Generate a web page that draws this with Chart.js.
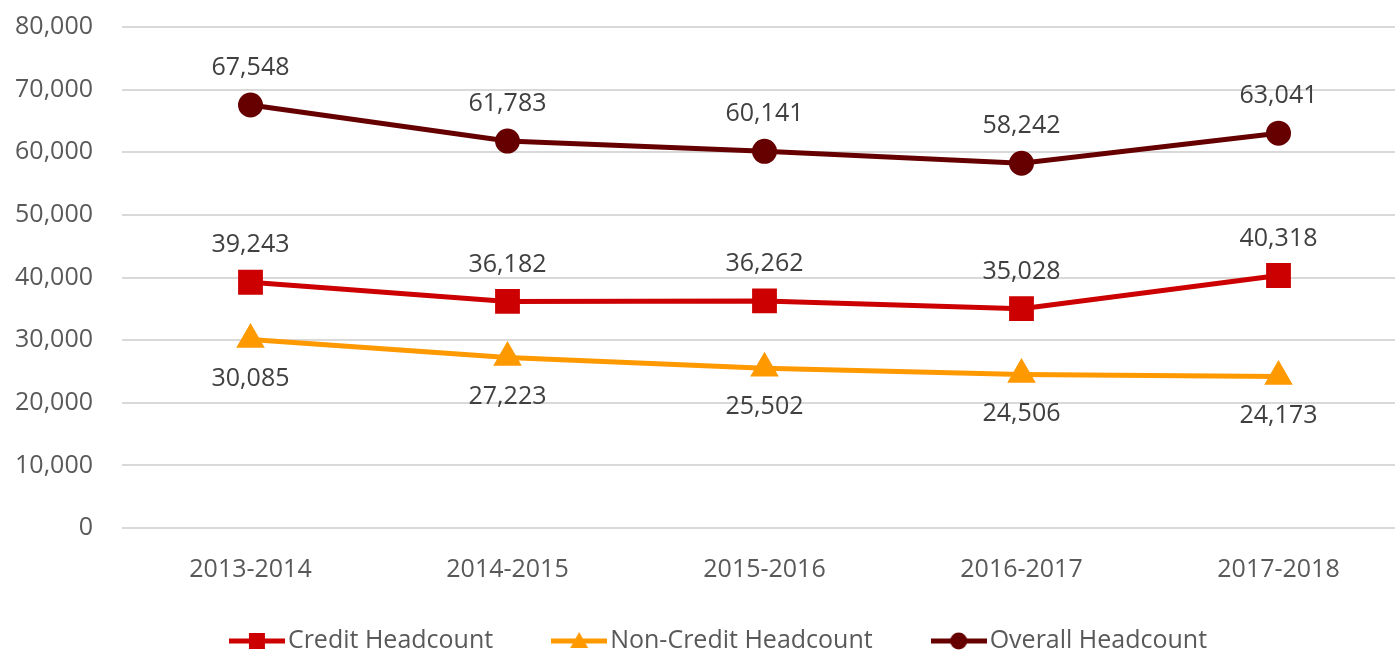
<!DOCTYPE html>
<html>
<head>
<meta charset="utf-8">
<script src="https://cdn.jsdelivr.net/npm/chart.js@4/dist/chart.umd.min.js"></script>
<style>
  html, body { margin: 0; padding: 0; overflow: hidden; background: #fff; }
  #headcount { display: block; }
</style>
</head>
<body>
<canvas id="headcount" width="1426" height="654"></canvas>
<script>
const years = ['2013-2014', '2014-2015', '2015-2016', '2016-2017', '2017-2018'];
const creditHeadcount = [39243, 36182, 36262, 35028, 40318];
const nonCreditHeadcount = [30085, 27223, 25502, 24506, 24173];
const overallHeadcount = [67548, 61783, 60141, 58242, 63041];
const yTicks = [0, 10000, 20000, 30000, 40000, 50000, 60000, 70000, 80000];

const FONT = '"Open Sans", sans-serif';

// little line+marker swatch for the legend
function swatch(color, style) {
    const c = document.createElement('canvas');
    c.width = 56; c.height = 24;
    const g = c.getContext('2d');
    g.strokeStyle = color; g.fillStyle = color; g.lineWidth = 5;
    g.beginPath(); g.moveTo(0, 12); g.lineTo(56, 12); g.stroke();
    g.beginPath();
    if (style === 'rect') g.rect(20, 4, 16, 16);
    else if (style === 'triangle') { g.moveTo(28, 3); g.lineTo(37, 19); g.lineTo(19, 19); g.closePath(); }
    else g.arc(28, 12, 8.5, 0, Math.PI * 2);
    g.fill();
    return c;
}

const valueLabels = {
    id: 'valueLabels',
    afterDatasetsDraw(chart) {
        const ctx = chart.ctx;
        ctx.save();
        ctx.font = '25px ' + FONT;
        ctx.fillStyle = '#404040';
        ctx.textAlign = 'center';
        ctx.textBaseline = 'middle';
        chart.data.datasets.forEach((ds, i) => {
            chart.getDatasetMeta(i).data.forEach((pt, j) => {
                const off = ds.labelBelow ? 39 : -37;
                ctx.fillText(ds.data[j].toLocaleString('en-US'), pt.x, pt.y + off);
            });
        });
        ctx.restore();
    }
};

const bottomLegend = {
    id: 'bottomLegend',
    afterDraw(chart) {
        const ctx = chart.ctx;
        ctx.save();
        ctx.font = '25px ' + FONT;
        ctx.textBaseline = 'middle';
        ctx.fillStyle = '#595959';
        const gap = 58;
        const items = chart.data.datasets.map(ds => ({
            ds: ds, w: 56 + 3 + ctx.measureText(ds.label).width
        }));
        const total = items.reduce((s, it) => s + it.w, 0) + gap * (items.length - 1);
        let x = 718 - total / 2;
        const y = 641;
        items.forEach(it => {
            ctx.drawImage(swatch(it.ds.borderColor, it.ds.pointStyle), x, y - 12);
            ctx.fillText(it.ds.label, x + 59, y);
            x += it.w + gap;
        });
        ctx.restore();
    }
};

new Chart(document.getElementById('headcount').getContext('2d'), {
    type: 'line',
    data: {
        labels: years,
        datasets: [{
            label: 'Credit Headcount',
            data: creditHeadcount,
            borderColor: '#cc0000',
            backgroundColor: '#cc0000',
            pointStyle: 'rect',
            pointRadius: 14,
            borderWidth: 5
        }, {
            label: 'Non-Credit Headcount',
            data: nonCreditHeadcount,
            borderColor: '#ff9900',
            backgroundColor: '#ff9900',
            pointStyle: 'triangle',
            pointRadius: 11.5,
            borderWidth: 5,
            labelBelow: true
        }, {
            label: 'Overall Headcount',
            data: overallHeadcount,
            borderColor: '#660000',
            backgroundColor: '#660000',
            pointStyle: 'circle',
            pointRadius: 10,
            borderWidth: 5
        }]
    },
    options: {
        responsive: false,
        animation: false,
        layout: { autoPadding: false, padding: { top: 27, right: 19, bottom: 0, left: 0 } },
        elements: { line: { tension: 0 }, point: { borderWidth: 0, hoverRadius: 10 } },
        plugins: {
            legend: { display: false },
            tooltip: { enabled: false }
        },
        scales: {
            x: {
                offset: true,
                grid: { display: false, drawTicks: false },
                border: { display: false },
                ticks: { color: '#595959', font: { family: FONT, size: 25 }, padding: 27 },
                afterFit(scale) { scale.height = 126; }
            },
            y: {
                min: 0,
                max: 80000,
                afterBuildTicks(scale) { scale.ticks = yTicks.map(v => ({ value: v })); },
                grid: { color: '#d9d9d9', lineWidth: 2, drawTicks: false },
                border: { display: false },
                ticks: {
                    color: '#595959',
                    font: { family: FONT, size: 25 },
                    padding: 29,
                    callback: v => v.toLocaleString('en-US')
                },
                afterFit(scale) {
                    scale.width = 122;
                    scale.paddingTop = 0;
                    scale.paddingBottom = 0;
                }
            }
        }
    },
    plugins: [valueLabels, bottomLegend]
});
</script>
</body>
</html>
